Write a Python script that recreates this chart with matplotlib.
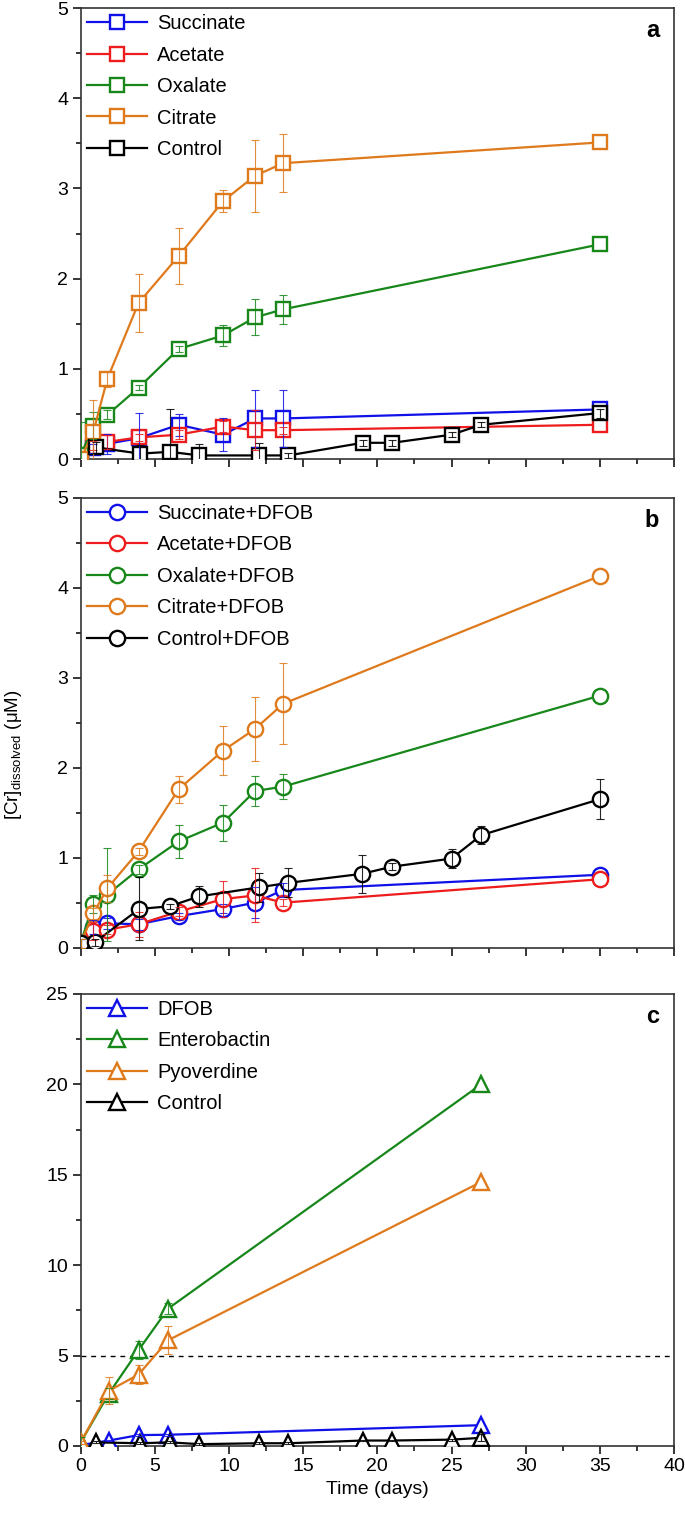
import matplotlib
matplotlib.use('Agg')
import matplotlib.pyplot as plt
from matplotlib.ticker import MultipleLocator

plt.rcParams['font.family'] = ['Liberation Sans', 'DejaVu Sans']
plt.rcParams['mathtext.fontset'] = 'custom'
plt.rcParams['mathtext.rm'] = 'Liberation Sans'

BLUE = '#1010e8'
RED = '#ee1c1c'
GREEN = '#17871a'
ORANGE = '#df7a1c'
BLACK = '#000000'

# ---- panel a: organic acids ----
days_a = [0, 0.85, 1.8, 3.9, 6.6, 9.6, 11.75, 13.65, 35]
succ_a = [0.02, 0.12, 0.17, 0.23, 0.38, 0.27, 0.45, 0.45, 0.55]
succ_a_err = [0, 0.05, 0.11, 0.28, 0.12, 0.18, 0.32, 0.32, 0]
acet_a = [0.02, 0.15, 0.19, 0.24, 0.27, 0.36, 0.32, 0.32, 0.38]
acet_a_err = [0, 0.05, 0.08, 0.04, 0.05, 0.06, 0.22, 0.04, 0]
oxal_a = [0.04, 0.37, 0.49, 0.79, 1.22, 1.37, 1.57, 1.66, 2.38]
oxal_a_err = [0.37, 0.15, 0.05, 0.03, 0.03, 0.12, 0.2, 0.16, 0]
citr_a = [0.0, 0.3, 0.89, 1.73, 2.25, 2.86, 3.14, 3.28, 3.51]
citr_a_err = [0, 0.36, 0.09, 0.32, 0.31, 0.12, 0.4, 0.32, 0]
ctrl_days_a = [1, 4, 6, 8, 12, 14, 19, 21, 25, 27, 35]
ctrl_a = [0.13, 0.06, 0.08, 0.04, 0.04, 0.04, 0.18, 0.18, 0.27, 0.38, 0.51]
ctrl_a_err = [0.06, 0.1, 0.48, 0.13, 0.14, 0.03, 0.03, 0.03, 0.03, 0.03, 0.05]

# ---- panel b: organic acids + DFOB ----
days_b = [0, 0.85, 1.8, 3.9, 6.6, 9.6, 11.75, 13.65, 35]
succ_b = [0.05, 0.23, 0.27, 0.26, 0.35, 0.43, 0.50, 0.64, 0.81]
succ_b_err = [0.05, 0.08, 0.06, 0.06, 0.04, 0.05, 0.17, 0.08, 0]
acet_b = [0.05, 0.18, 0.20, 0.26, 0.40, 0.54, 0.58, 0.50, 0.76]
acet_b_err = [0.05, 0.1, 0.05, 0.14, 0.05, 0.2, 0.3, 0.04, 0]
oxal_b = [0.05, 0.49, 0.59, 0.87, 1.18, 1.39, 1.74, 1.79, 2.80]
oxal_b_err = [0.05, 0.1, 0.52, 0.05, 0.18, 0.2, 0.17, 0.14, 0]
citr_b = [0.05, 0.38, 0.66, 1.07, 1.76, 2.19, 2.43, 2.71, 4.13]
citr_b_err = [0.05, 0.06, 0.15, 0.04, 0.15, 0.27, 0.36, 0.45, 0]
ctrl_days_b = [0, 0.95, 3.95, 6.0, 8.0, 12.0, 14.0, 18.95, 21.0, 25.0, 27.0, 35]
ctrl_b = [0.05, 0.06, 0.43, 0.46, 0.57, 0.67, 0.72, 0.82, 0.90, 0.99, 1.25, 1.65]
ctrl_b_err = [0, 0.04, 0.35, 0.03, 0.12, 0.16, 0.16, 0.21, 0.04, 0.11, 0.1, 0.22]

# ---- panel c: siderophores ----
days_c = [0, 1.9, 3.9, 5.9, 27]
dfob_c = [0.05, 0.3, 0.6, 0.62, 1.15]
dfob_c_err = [0, 0.05, 0.05, 0.05, 0]
entero_c = [0.2, 2.9, 5.3, 7.6, 20.0]
entero_c_err = [0.3, 0.3, 0.5, 0.3, 0]
pyo_c = [0.2, 3.05, 3.95, 5.85, 14.6]
pyo_c_err = [0.1, 0.74, 0.55, 0.78, 0]
ctrl_days_c = [1, 4, 6, 8, 12, 14, 19, 21, 25, 27]
ctrl_c = [0.2, 0.15, 0.2, 0.1, 0.15, 0.15, 0.3, 0.3, 0.35, 0.45]
ctrl_c_err = [0.05, 0.05, 0.05, 0.05, 0.05, 0.05, 0.05, 0.05, 0.05, 0.2]


def draw_series(ax, x, y, err, color, marker, label, ms):
    ax.plot(x, y, color=color, lw=1.6, marker=marker, ms=ms, mfc='white',
            mec=color, mew=1.7, label=label, zorder=3)
    # only points that actually have an error bar
    keep = [i for i, e in enumerate(err) if e > 0]
    ex = [x[i] for i in keep]
    ey = [y[i] for i in keep]
    ee = [err[i] for i in keep]
    ax.errorbar(ex, ey, yerr=ee, fmt='none', ecolor=color, elinewidth=0.8,
                capsize=3.2, capthick=0.8, zorder=4, alpha=0.85)


def style_axes(ax, ymax, ymajor, show_x):
    ax.set_xlim(0, 40)
    ax.set_ylim(0, ymax)
    ax.xaxis.set_major_locator(MultipleLocator(5))
    ax.xaxis.set_minor_locator(MultipleLocator(2.5))
    ax.yaxis.set_major_locator(MultipleLocator(ymajor))
    ax.yaxis.set_minor_locator(MultipleLocator(ymajor / 2))
    ax.tick_params(which='major', direction='out', length=6, width=1.1,
                   labelsize=14, pad=3)
    ax.tick_params(which='minor', direction='out', length=3.5, width=1.1)
    if not show_x:
        ax.tick_params(axis='x', labelbottom=False)
    for s in ax.spines.values():
        s.set_linewidth(1.2)
        s.set_color('#333333')
    ax.legend(loc='upper left', frameon=False, fontsize=14.5,
              handlelength=3.0, handletextpad=0.5, borderaxespad=0.0,
              borderpad=0.3, labelspacing=0.62)


fig = plt.figure(figsize=(6.85, 15.16), dpi=100)
ax_a = fig.add_axes([0.1178, 0.6972, 0.8662, 0.2975])
ax_b = fig.add_axes([0.1178, 0.3749, 0.8662, 0.2968])
ax_c = fig.add_axes([0.1178, 0.0462, 0.8662, 0.2982])

ms_sq = 10
draw_series(ax_a, days_a, succ_a, succ_a_err, BLUE, 's', 'Succinate', ms_sq)
draw_series(ax_a, days_a, acet_a, acet_a_err, RED, 's', 'Acetate', ms_sq)
draw_series(ax_a, days_a, oxal_a, oxal_a_err, GREEN, 's', 'Oxalate', ms_sq)
draw_series(ax_a, days_a, citr_a, citr_a_err, ORANGE, 's', 'Citrate', ms_sq)
draw_series(ax_a, ctrl_days_a, ctrl_a, ctrl_a_err, BLACK, 's', 'Control', ms_sq)
style_axes(ax_a, 5, 1, False)

ms_ci = 11
draw_series(ax_b, days_b, succ_b, succ_b_err, BLUE, 'o', 'Succinate+DFOB', ms_ci)
draw_series(ax_b, days_b, acet_b, acet_b_err, RED, 'o', 'Acetate+DFOB', ms_ci)
draw_series(ax_b, days_b, oxal_b, oxal_b_err, GREEN, 'o', 'Oxalate+DFOB', ms_ci)
draw_series(ax_b, days_b, citr_b, citr_b_err, ORANGE, 'o', 'Citrate+DFOB', ms_ci)
draw_series(ax_b, ctrl_days_b, ctrl_b, ctrl_b_err, BLACK, 'o', 'Control+DFOB', ms_ci)
style_axes(ax_b, 5, 1, False)

ms_tr = 11.5
draw_series(ax_c, days_c, dfob_c, dfob_c_err, BLUE, '^', 'DFOB', ms_tr)
draw_series(ax_c, days_c, entero_c, entero_c_err, GREEN, '^', 'Enterobactin', ms_tr)
draw_series(ax_c, days_c, pyo_c, pyo_c_err, ORANGE, '^', 'Pyoverdine', ms_tr)
draw_series(ax_c, ctrl_days_c, ctrl_c, ctrl_c_err, BLACK, '^', 'Control', ms_tr)
ax_c.axhline(5, color='black', lw=1.0, ls=(0, (3.5, 3.5)), zorder=1)
style_axes(ax_c, 25, 5, True)
ax_c.set_xlabel('Time (days)', fontsize=14, labelpad=4)

for ax, lab in [(ax_a, 'a'), (ax_b, 'b'), (ax_c, 'c')]:
    ax.text(0.975, 0.975, lab, transform=ax.transAxes, ha='right', va='top',
            fontsize=17, fontweight='bold')

fig.text(0.02, 0.502, r'[Cr]$_{\mathrm{dissolved}}$ ($\mathrm{\mu}$M)',
         rotation=90, ha='center', va='center', fontsize=13.5)

fig.savefig('out.png', dpi=100)
